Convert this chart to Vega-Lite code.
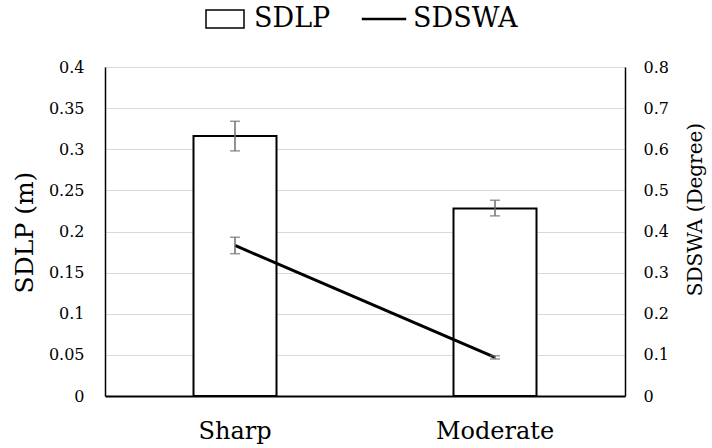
{
  "$schema": "https://vega.github.io/schema/vega-lite/v6.json",
  "autosize": "none",
  "width": 520,
  "height": 329,
  "padding": {"left": 105, "top": 67, "right": 87, "bottom": 52},
  "background": "white",
  "config": {
    "font": "DejaVu Serif",
    "view": {"stroke": null},
    "axis": {"labelColor": "#000", "titleColor": "#000", "labelFont": "DejaVu Serif", "titleFont": "DejaVu Serif", "titleFontWeight": "normal"}
  },
  "datasets": {
    "main": [
      {"cond": "Sharp", "sdlp": 0.316, "sdlp_lo": 0.298, "sdlp_hi": 0.334, "sdswa": 0.366, "sdswa_lo": 0.346, "sdswa_hi": 0.386},
      {"cond": "Moderate", "sdlp": 0.228, "sdlp_lo": 0.219, "sdlp_hi": 0.238, "sdswa": 0.094, "sdswa_lo": 0.090, "sdswa_hi": 0.098}
    ],
    "legend": [
      {"series": "SDLP", "cond": "Sharp", "v": 0},
      {"series": "SDSWA", "cond": "Sharp", "v": 0}
    ]
  },
  "encoding": {
    "x": {
      "field": "cond", "type": "nominal", "sort": ["Sharp", "Moderate"],
      "scale": {"paddingInner": 0, "paddingOuter": 0},
      "axis": {"title": null, "domainColor": "black", "domainWidth": 2, "ticks": false, "labelFontSize": 24, "labelPadding": 23, "labelAngle": 0, "labelBaseline": "top", "grid": false}
    }
  },
  "layer": [
    {
      "layer": [
        {
          "data": {"name": "main"},
          "mark": {"type": "bar", "fill": "white", "stroke": "black", "strokeWidth": 2, "size": 83},
          "encoding": {
            "y": {
              "field": "sdlp", "type": "quantitative", "title": "SDLP (m)",
              "scale": {"domain": [0, 0.4]},
              "axis": {
                "values": [0, 0.05, 0.1, 0.15, 0.2, 0.25, 0.3, 0.35, 0.4],
                "format": "~g",
                "grid": true, "gridColor": "#d9d9d9", "gridWidth": 1,
                "domain": true, "domainColor": "black", "domainWidth": 1.5,
                "ticks": false, "labelFontSize": 16, "labelPadding": 21,
                "titleFontSize": 25, "titleX": -81, "titleY": 165, "titleAngle": 270,
                "titleBaseline": "middle", "titleAlign": "center"
              }
            }
          }
        },
        {
          "data": {"name": "main"},
          "mark": {"type": "errorbar", "color": "#6e6e6e", "thickness": 1.5, "ticks": {"size": 10, "thickness": 1.5, "color": "#6e6e6e"}},
          "encoding": {
            "y": {"field": "sdlp_lo", "type": "quantitative", "title": "SDLP (m)"},
            "y2": {"field": "sdlp_hi"}
          }
        },
        {
          "data": {"name": "legend"},
          "mark": {"type": "point", "opacity": 0},
          "encoding": {
            "y": {"field": "v", "type": "quantitative", "title": "SDLP (m)"},
            "shape": {
              "field": "series", "type": "nominal", "sort": ["SDLP", "SDSWA"],
              "scale": {"range": ["M-1,-0.47H1V0.47H-1Z", "M-1.13,-0.025H1.13V0.025H-1.13Z"]},
              "legend": {
                "title": null, "orient": "none", "legendX": 100, "legendY": -68,
                "direction": "horizontal", "labelFont": "DejaVu Serif", "labelFontSize": 27,
                "labelColor": "#000", "labelOffset": 9, "columnPadding": 28,
                "symbolSize": 1444, "symbolFillColor": "white", "symbolStrokeColor": "black", "symbolOpacity": 1, "symbolStrokeWidth": 1.5,
                "encode": {
                  "symbols": {
                    "update": {
                      "opacity": {"value": 1},
                      "fill": {"value": "white"},
                      "stroke": {"value": "black"},
                      "size": {"value": 1444},
                      "strokeWidth": {"value": 1.5}
                    }
                  }
                }
              }
            }
          }
        }
      ]
    },
    {
      "layer": [
        {
          "data": {"name": "main"},
          "mark": {"type": "line", "color": "black", "strokeWidth": 3},
          "encoding": {
            "y": {
              "field": "sdswa", "type": "quantitative", "title": "SDSWA (Degree)",
              "scale": {"domain": [0, 0.8]},
              "axis": {
                "orient": "right",
                "values": [0, 0.1, 0.2, 0.3, 0.4, 0.5, 0.6, 0.7, 0.8],
                "format": "~g",
                "grid": false,
                "domain": true, "domainColor": "black", "domainWidth": 1.5,
                "ticks": false, "labelFontSize": 16, "labelPadding": 18,
                "titleFontSize": 20, "titleX": 70, "titleY": 142, "titleAngle": 270,
                "titleBaseline": "middle", "titleAlign": "center"
              }
            }
          }
        },
        {
          "data": {"name": "main"},
          "mark": {"type": "errorbar", "color": "#6e6e6e", "thickness": 1.5, "ticks": {"size": 10, "thickness": 1.5, "color": "#6e6e6e"}},
          "encoding": {
            "y": {"field": "sdswa_lo", "type": "quantitative", "title": "SDSWA (Degree)"},
            "y2": {"field": "sdswa_hi"}
          }
        }
      ]
    }
  ],
  "resolve": {"scale": {"y": "independent"}}
}
